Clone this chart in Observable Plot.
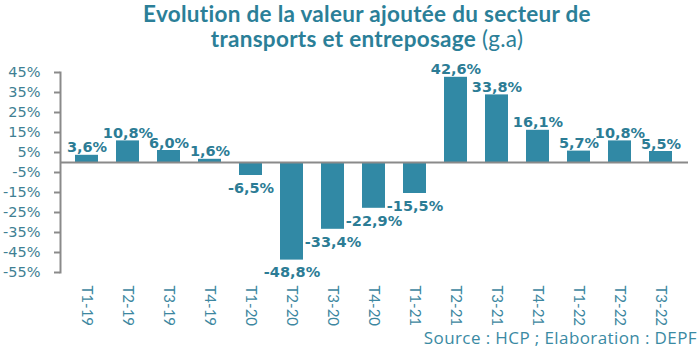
<!DOCTYPE html>
<html>
<head>
<meta charset="utf-8">
<script src="https://cdn.jsdelivr.net/npm/d3@7"></script>
<script src="https://cdn.jsdelivr.net/npm/@observablehq/plot@0.6"></script>
<style>
  html, body { margin: 0; padding: 0; background: #fff; }
  #wrap { position: relative; width: 700px; height: 350px; overflow: hidden; }
  #title { position: absolute; left: 0; top: 1px; width: 734px; text-align: center;
           font-family: Lato, "Open Sans", sans-serif; font-weight: 700; font-size: 22.5px;
           letter-spacing: 0.3px; line-height: 25px; color: #2b7f98; }
  #title div { height: 25px; }
  #title .light { font-weight: 400; }
  #source { position: absolute; right: 3px; top: 326px; font-family: "Open Sans", sans-serif;
            font-size: 17px; letter-spacing: 0.4px; color: #3a8aa3; white-space: nowrap; }
  #chart { position: absolute; left: 0; top: 0; }
</style>
</head>
<body>
<div id="wrap">
  <div id="chart"></div>
  <div id="title"><div>Evolution de la valeur ajoutée du secteur de</div><div>transports et entreposage <span class="light">(g.a)</span></div></div>
  <div id="source">Source : HCP ; Elaboration : DEPF</div>
</div>
<script>
const quarters = ["T1-19","T2-19","T3-19","T4-19","T1-20","T2-20","T3-20","T4-20","T1-21","T2-21","T3-21","T4-21","T1-22","T2-22","T3-22"];
const values = [3.6, 10.8, 6.0, 1.6, -6.5, -48.8, -33.4, -22.9, -15.5, 42.6, 33.8, 16.1, 5.7, 10.8, 5.5];
const yTicks = [45, 35, 25, 15, 5, -5, -15, -25, -35, -45, -55];

const data = quarters.map((q, i) => ({q, v: values[i]}));
const fmt = v => v.toFixed(1).replace(".", ",") + "%";
const barColor = "#3189a5";
const labelColor = "#2c7c95";

const chart = Plot.plot({
  width: 700,
  height: 350,
  marginTop: 72,
  marginBottom: 78,
  marginLeft: 60,
  marginRight: 12,
  style: {background: "transparent", overflow: "visible"},
  x: {domain: quarters, paddingInner: 0.43, paddingOuter: 0.215, label: null},
  y: {domain: [-55, 45], label: null},
  marks: [
    Plot.barY(data, {x: "q", y: "v", fill: barColor}),
    Plot.ruleY([0], {stroke: "#8a8a8a", strokeWidth: 2}),
    Plot.frame({anchor: "left", stroke: "#8a8a8a", strokeWidth: 2}),
    Plot.axisY({ticks: yTicks, tickFormat: d => d + "%", tickSize: 6, tickPadding: 14,
      stroke: "#8a8a8a", strokeWidth: 2, fill: "#3f7f93", fontSize: 14.5,
      fontFamily: "DejaVu Sans", label: null}),
    Plot.axisX({tickRotate: 90, tickSize: 0, tickPadding: 13, fill: "#3d87a0",
      fontSize: 15, fontFamily: "Lato", label: null}),
    Plot.text(data.filter(d => d.v >= 0), {x: "q", y: "v", text: d => fmt(d.v),
      lineAnchor: "bottom", dy: -3, fill: labelColor, fontWeight: "bold",
      fontSize: 14.5, fontFamily: "DejaVu Sans"}),
    Plot.text(data.filter(d => d.v < 0), {x: "q", y: "v", text: d => fmt(d.v),
      lineAnchor: "top", dy: 7, fill: labelColor, fontWeight: "bold",
      fontSize: 14.5, fontFamily: "DejaVu Sans"})
  ]
});
document.getElementById("chart").appendChild(chart);
</script>
</body>
</html>
